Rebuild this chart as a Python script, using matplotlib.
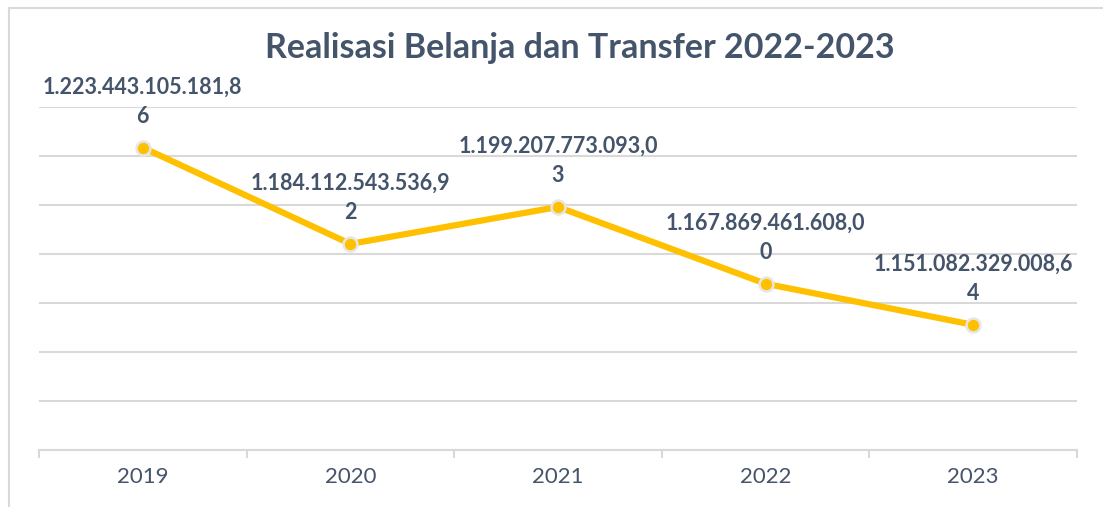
import matplotlib.pyplot as plt
from matplotlib.patches import Rectangle

years = ["2019", "2020", "2021", "2022", "2023"]
# nilai dalam miliar rupiah
values = [1223.443105, 1184.112544, 1199.207773, 1167.869462, 1151.082329]
labels = ["1.223.443.105.181,8\n6", "1.184.112.543.536,9\n2", "1.199.207.773.093,0\n3",
          "1.167.869.461.608,0\n0", "1.151.082.329.008,6\n4"]
title = "Realisasi Belanja dan Transfer 2022-2023"

plt.rcParams['font.family'] = ['Lato', 'DejaVu Sans']
txt_color = "#44546A"
grid_color = "#D9D9D9"

fig = plt.figure(figsize=(11.03, 5.07), dpi=100)
fig.patches.append(Rectangle((9 / 1103, -0.1), 1.2, 1.1 - 8 / 507, transform=fig.transFigure,
                             fill=False, edgecolor=grid_color, linewidth=1.5))
ax = fig.add_axes([39 / 1103, 57 / 507, 1038 / 1103, 343 / 507])

x = list(range(len(years)))
ax.plot(x, values, color="#FFC000", linewidth=4.5, marker="o", markersize=10,
        markerfacecolor="#FFC000", markeredgecolor="#E6E6E6", markeredgewidth=1.8,
        solid_capstyle="round", zorder=3)

for xi, v, lab in zip(x, values, labels):
    ax.annotate(lab, (xi, v), xytext=(0, 15), textcoords="offset points",
                ha="center", va="bottom", fontsize=15.5, fontweight="bold",
                color=txt_color, linespacing=1.5)

ax.set_xlim(-0.5, len(years) - 0.5)
ax.set_ylim(1100, 1240)
ax.set_yticks(range(1100, 1241, 20))
ax.yaxis.grid(True, color=grid_color, linewidth=1.5)
ax.set_axisbelow(True)
ax.tick_params(axis="y", left=False, labelleft=False)

ax.set_xticks(x)
ax.set_xticklabels(years, fontsize=16, color=txt_color)
ax.set_xticks([i - 0.5 for i in range(len(years) + 1)], minor=True)
ax.tick_params(axis="x", which="major", length=0, pad=12)
ax.tick_params(axis="x", which="minor", length=6, color=grid_color, width=1.5)

for s in ["top", "right", "left"]:
    ax.spines[s].set_visible(False)
ax.spines["bottom"].set_color(grid_color)
ax.spines["bottom"].set_linewidth(1.5)

fig.text(580 / 1103, 1 - 48 / 507, title, ha="center", va="center", fontsize=24.5,
         fontweight="bold", color=txt_color)

fig.savefig("out.png", dpi=100)
